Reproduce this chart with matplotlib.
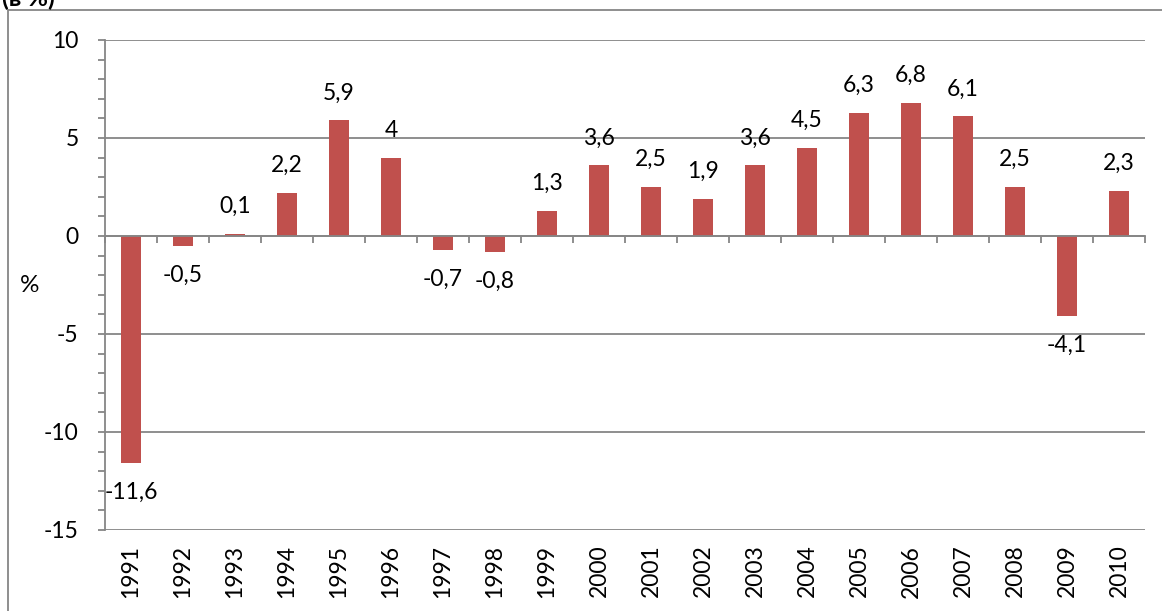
import matplotlib.pyplot as plt
from matplotlib.patches import Rectangle
from matplotlib.ticker import MultipleLocator, FixedLocator
import numpy as np

# data
years = ['1991', '1992', '1993', '1994', '1995', '1996', '1997', '1998', '1999', '2000',
         '2001', '2002', '2003', '2004', '2005', '2006', '2007', '2008', '2009', '2010']
growth = [-11.6, -0.5, 0.1, 2.2, 5.9, 4.0, -0.7, -0.8, 1.3, 3.6,
          2.5, 1.9, 3.6, 4.5, 6.3, 6.8, 6.1, 2.5, -4.1, 2.3]
value_labels = ['-11,6', '-0,5', '0,1', '2,2', '5,9', '4', '-0,7', '-0,8', '1,3', '3,6',
                '2,5', '1,9', '3,6', '4,5', '6,3', '6,8', '6,1', '2,5', '-4,1', '2,3']

plt.rcParams['font.family'] = ['Lato', 'DejaVu Sans']
grey = '#868686'
bar_color = '#C0504D'
fs = 16.5

fig = plt.figure(figsize=(11.62, 6.11), dpi=100)
ax = fig.add_axes([105 / 1162, 1 - 530 / 611, 1040 / 1162, 490 / 611])

x = np.arange(len(years))
ax.bar(x, growth, width=0.4, color=bar_color, zorder=3)

ax.set_xlim(-0.5, len(years) - 0.5)
ax.set_ylim(-15, 10)

# horizontal gridlines every 5, minor ticks every 1
ax.yaxis.set_major_locator(MultipleLocator(5))
ax.yaxis.set_minor_locator(MultipleLocator(1))
ax.grid(axis='y', which='major', color=grey, linewidth=1.3, zorder=0)
ax.tick_params(axis='y', which='both', direction='out', length=5, width=1.3,
               color=grey, labelsize=fs, pad=14)
ax.set_yticks([-15, -10, -5, 0, 5, 10])
ax.set_yticklabels(['-15', '-10', '-5', '0', '5', '10'])

# x axis line sits on zero, ticks between categories
for side in ['top', 'right']:
    ax.spines[side].set_visible(False)
ax.spines['bottom'].set_position(('data', 0))
ax.spines['bottom'].set_color(grey)
ax.spines['bottom'].set_linewidth(1.3)
ax.spines['left'].set_color(grey)
ax.spines['left'].set_linewidth(1.3)
ax.spines['bottom'].set_zorder(4)
ax.xaxis.set_major_locator(FixedLocator(np.arange(len(years) + 1) - 0.5))
ax.xaxis.set_minor_locator(FixedLocator([]))
ax.tick_params(axis='x', which='major', direction='out', length=5, width=1.3,
               color=grey, labelbottom=False)

# year labels below the plot area
for xi, yr in zip(x, years):
    ax.text(xi, -0.03, yr, transform=ax.get_xaxis_transform(), rotation=90,
            ha='center', va='top', fontsize=fs)

# data labels
for xi, v, lab in zip(x, growth, value_labels):
    if v >= 0:
        ax.text(xi, v + 1.4, lab, ha='center', va='center', fontsize=fs)
    else:
        ax.text(xi, v - 1.5, lab, ha='center', va='center', fontsize=fs)

ax.set_ylabel('%', rotation=0, fontsize=fs + 1, va='center', ha='center')
ax.yaxis.set_label_coords(-0.072, 0.5)

# chart area border (extends beyond the right and bottom edges)
fig.patches.append(Rectangle((8 / 1162, -0.1), 1.2, 1 - 10 / 611 + 0.1,
                             transform=fig.transFigure, fill=False,
                             edgecolor=grey, linewidth=1.3))

# title, cut off at the top as in the original
fig.text(0.002, 1 - 6 / 611, '(в %)', fontsize=18, fontweight='bold',
         ha='left', va='baseline')

fig.savefig('out.png', dpi=100)
